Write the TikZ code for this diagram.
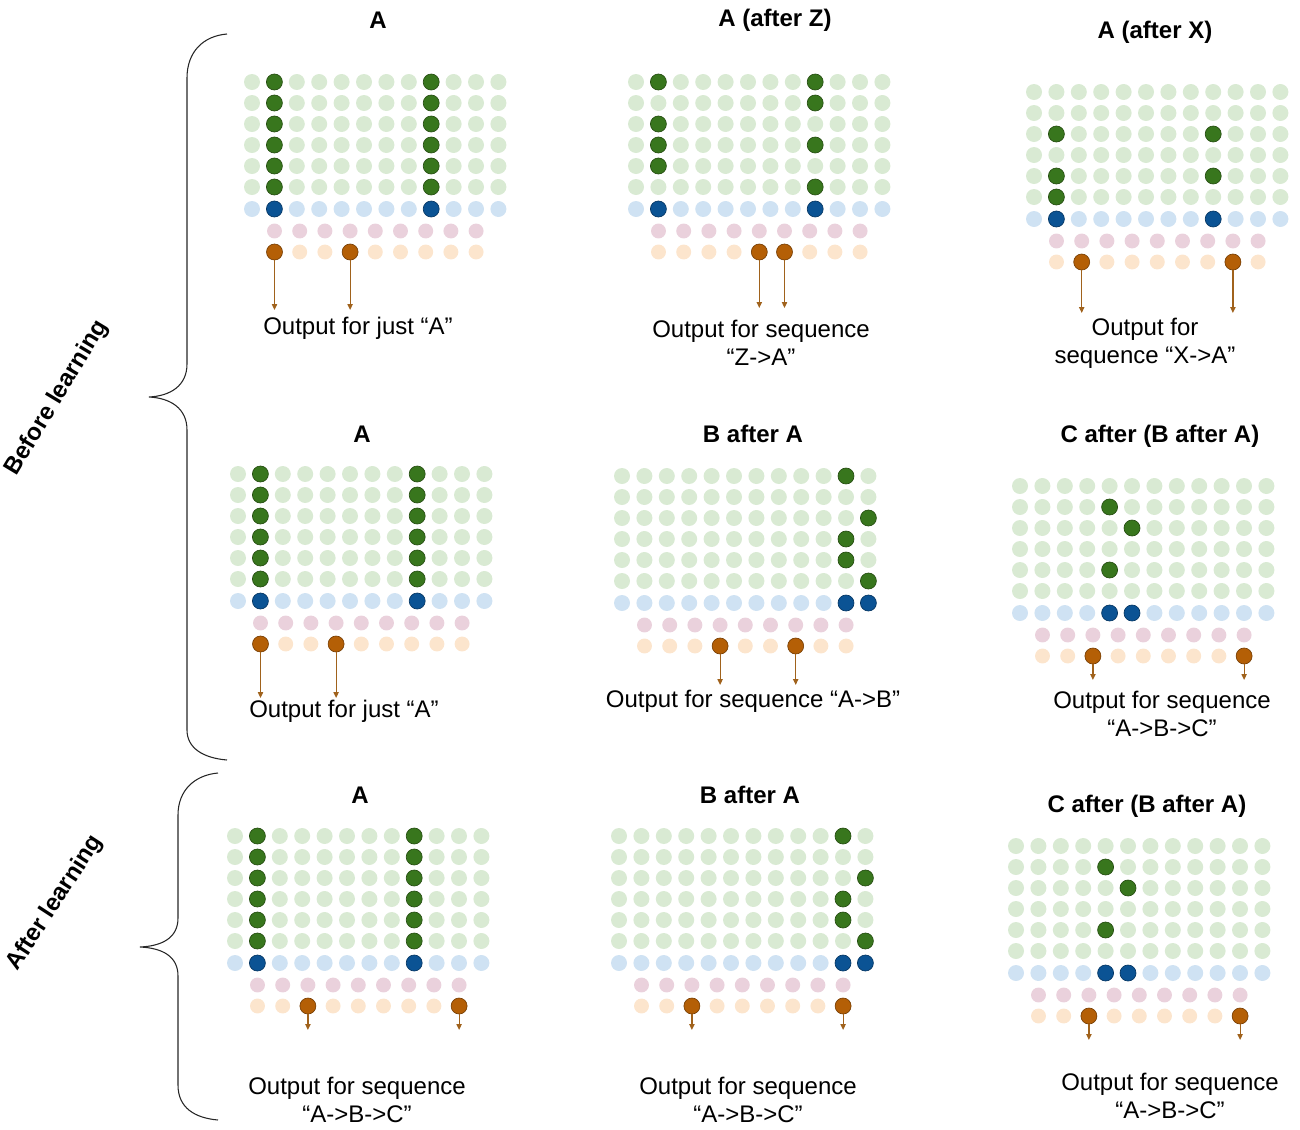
\documentclass[tikz,border=0pt]{standalone}
\usepackage{fontspec}
\setmainfont{Liberation Sans}
\usetikzlibrary{arrows.meta}
\definecolor{lgreen}{HTML}{D9EAD3}
\definecolor{dgreen}{HTML}{38761D}
\definecolor{dgreenb}{HTML}{274E13}
\definecolor{lblue}{HTML}{CFE2F3}
\definecolor{dblue}{HTML}{0B5394}
\definecolor{dblueb}{HTML}{073763}
\definecolor{lpink}{HTML}{EAD1DC}
\definecolor{lorange}{HTML}{FCE5CD}
\definecolor{dorange}{HTML}{B45F06}
\definecolor{dorangeb}{HTML}{783F04}
\definecolor{arrowc}{HTML}{A0621C}
\tikzset{
  ttl/.style={font=\fontsize{18}{21}\selectfont\bfseries, inner sep=0pt},
  lbl/.style={font=\fontsize{18}{21}\selectfont, align=center, inner sep=0pt},
  odot/.style={circle, fill=dorange, draw=dorangeb, line width=0.5pt, minimum size=12pt, inner sep=0pt},
  outarrow/.style={draw=arrowc, line width=0.9pt, -{Triangle[length=4.5pt,width=4pt]}},
  bracestyle/.style={draw=black!85, line width=0.8pt},
}
% #1 name, #2 x0, #3 y0, #4 green actives c/r, #5 blue actives, #6 orange actives, #7 arrow end y
\newcommand{\dotpanel}[7]{%
  \edef\mygreenlist{#4}\edef\mybluelist{#5}\edef\myorangelist{#6}%
  \begin{scope}[shift={(#2,#3)}]
    \foreach \c in {0,...,11}{%
      \foreach \r in {0,...,5}{\fill[lgreen] (\c*22.4,\r*21) circle[radius=6pt];}
      \fill[lblue] (\c*22.4,127) circle[radius=6pt];
    }
    \foreach \k in {0,...,8}{%
      \fill[lpink] (22.5+\k*25.2,149) circle[radius=5.6pt];
      \fill[lorange] (22.5+\k*25.2,170) circle[radius=5.6pt];
    }
    \foreach \c/\r in \mygreenlist {\fill[dgreen, draw=dgreenb, line width=0.5pt] (\c*22.4,\r*21) circle[radius=6pt];}
    \foreach \c in \mybluelist {\fill[dblue, draw=dblueb, line width=0.5pt] (\c*22.4,127) circle[radius=6pt];}
    \foreach \k in \myorangelist {%
      \node[odot] (#1o\k) at (22.5+\k*25.2,170) {};
      \coordinate (#1e\k) at (22.5+\k*25.2,#7-#3);
      \draw[outarrow] (#1o\k.south) -- (#1e\k);
    }
  \end{scope}}
\begin{document}
\begin{tikzpicture}[x=0.75pt,y=-0.75pt]
\useasboundingbox (0,0) rectangle (1300,1129);
\def\colA{1/0,1/1,1/2,1/3,1/4,1/5,8/0,8/1,8/2,8/3,8/4,8/5}
\def\colB{10/0,10/3,10/4,11/2,11/5}
\def\colC{4/1,4/4,5/2}
% Row 1
\dotpanel{pa}{252}{82}{\colA}{1,8}{0,3}{310}
\dotpanel{pb}{636}{82}{1/0,1/2,1/3,1/4,8/0,8/1,8/3,8/5}{1,8}{4,5}{308}
\dotpanel{pc}{1034}{92}{1/2,1/4,1/5,8/2,8/4}{1,8}{1,7}{313}
% Row 2
\dotpanel{pd}{238}{474}{\colA}{1,8}{0,3}{698}
\dotpanel{pe}{622}{476}{\colB}{10,11}{3,6}{685}
\dotpanel{pf}{1020}{486}{\colC}{4,5}{2,8}{680}
% Row 3
\dotpanel{pg}{235}{836}{\colA}{1,8}{2,8}{1030}
\dotpanel{ph}{619}{836}{\colB}{10,11}{2,8}{1030}
\dotpanel{pi}{1016}{846}{\colC}{4,5}{2,8}{1040}
% Titles
\node[ttl] (ta) at (378,20) {A};
\node[ttl] (tb) at (775,20) {A (after Z)};
\node[ttl] (tc) at (1155,32) {A (after X)};
\node[ttl] (td) at (362,434) {A};
\node[ttl] (te) at (753,434) {B after A};
\node[ttl] (tf) at (1160,436) {C after (B after A)};
\node[ttl] (tg) at (360,795) {A};
\node[ttl] (th) at (750,795) {B after A};
\node[ttl] (ti) at (1147,806) {C after (B after A)};
% Labels
\node[lbl] (la) at (358,328) {Output for just “A”};
\node[lbl] (lb) at (761,343) {Output for sequence\\“Z->A”};
\node[lbl] (lc) at (1145,343) {Output for\\sequence “X->A”};
\node[lbl] (ld) at (344,711) {Output for just “A”};
\node[lbl] (le) at (753,701) {Output for sequence “A->B”};
\node[lbl] (lf) at (1162,714) {Output for sequence\\“A->B->C”};
\node[lbl] (lg) at (357,1100) {Output for sequence\\“A->B->C”};
\node[lbl] (lh) at (748,1100) {Output for sequence\\“A->B->C”};
\node[lbl] (li) at (1170,1096) {Output for sequence\\“A->B->C”};
% Braces
\draw[bracestyle] (227,34) .. controls (203,36) and (187,52) .. (187,78) -- (187,364)
  .. controls (187,386) and (170,396) .. (149,397)
  .. controls (170,398) and (187,408) .. (187,430) -- (187,730)
  .. controls (187,748) and (203,758) .. (227,760);
\draw[bracestyle] (218,773) .. controls (195,775) and (178,790) .. (178,815) -- (178,918)
  .. controls (178,938) and (162,946) .. (140,947)
  .. controls (162,948) and (178,956) .. (178,976) -- (178,1085)
  .. controls (178,1108) and (195,1118) .. (218,1120);
\node[ttl, rotate=59] (before) at (57,398) {Before learning};
\node[ttl, rotate=57] (after) at (55,903) {After learning};
\end{tikzpicture}
\end{document}
